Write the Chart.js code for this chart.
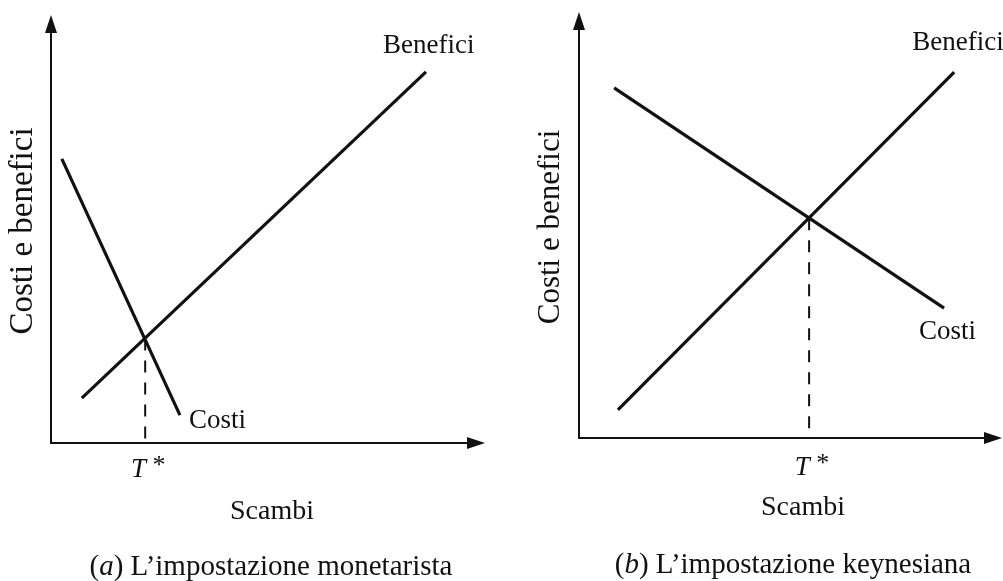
<!DOCTYPE html>
<html>
<head>
<meta charset="utf-8">
<script src="https://cdn.jsdelivr.net/npm/chart.js@4"></script>
<style>
  html, body { margin: 0; padding: 0; background: #fff; }
  #wrap { position: relative; width: 1003px; height: 581px; overflow: hidden; }
  canvas { position: absolute; top: 0; }
  #chartA { left: 0; }
  #chartB { left: 500px; }
</style>
</head>
<body>
<div id="wrap">
  <canvas id="chartA" width="500" height="581"></canvas>
  <canvas id="chartB" width="503" height="581"></canvas>
</div>
<script>
"use strict";

// (a) monetarist view, values in axis units (0..10)
const costiAX = [0.25, 2.97];
const costiAY = [6.64, 0.65];
const beneficiAX = [0.71, 8.64];
const beneficiAY = [1.05, 8.67];
const tStarA = 2.17;
const eqA = 2.44;

// (b) keynesian view
const costiBX = [0.83, 8.63];
const costiBY = [8.22, 3.05];
const beneficiBX = [0.92, 8.87];
const beneficiBY = [0.66, 8.59];
const tStarB = 5.44;
const eqB = 5.16;

const axisTitleY = 'Costi e benefici';
const axisTitleX = 'Scambi';
const seriesNames = ['Costi', 'Benefici'];

const SERIF = '"Liberation Serif", "DejaVu Serif", serif';
const INK = '#111';

function pts(xs, ys) {
    return xs.map((x, i) => ({ x: x, y: ys[i] }));
}

function arrowHead(ctx, x, y, dir) {
    // dir: 'up' or 'right'
    ctx.beginPath();
    if (dir === 'up') {
        ctx.moveTo(x, y);
        ctx.lineTo(x - 6, y + 18);
        ctx.lineTo(x + 6, y + 18);
    } else {
        ctx.moveTo(x, y);
        ctx.lineTo(x - 18, y - 6);
        ctx.lineTo(x - 18, y + 6);
    }
    ctx.closePath();
    ctx.fill();
}

// draws pieces of text one after the other, each with its own font, centred on cx
function drawRuns(ctx, runs, cx, cy) {
    let total = 0;
    runs.forEach(r => { ctx.font = r.font; total += ctx.measureText(r.text).width; });
    let x = cx - total / 2;
    runs.forEach(r => {
        ctx.font = r.font;
        ctx.textAlign = 'left';
        ctx.fillText(r.text, x, cy + (r.dy || 0));
        x += ctx.measureText(r.text).width;
    });
}

const sketchPlugin = {
    id: 'sketch',
    afterDraw(chart, args, o) {
        const { ctx, chartArea: a, scales } = chart;
        const xs = scales.x, ys = scales.y;
        ctx.save();
        ctx.strokeStyle = INK;
        ctx.fillStyle = INK;
        ctx.lineWidth = 2;

        // axes
        ctx.beginPath();
        ctx.moveTo(a.left, a.top + 10);
        ctx.lineTo(a.left, a.bottom);
        ctx.lineTo(a.right - 10, a.bottom);
        ctx.stroke();
        arrowHead(ctx, a.left, a.top, 'up');
        arrowHead(ctx, a.right, a.bottom, 'right');

        ctx.textBaseline = 'middle';
        const plain = '27px ' + SERIF;
        const ital = 'italic 27px ' + SERIF;
        const capPlain = '29px ' + SERIF;
        const capItal = 'italic 29px ' + SERIF;

        // T* tick label
        drawRuns(ctx, [
            { text: 'T', font: ital },
            { text: ' *', font: '26px ' + SERIF, dy: -4 }
        ], xs.getPixelForValue(o.tStar) + 3, o.tY);

        // x title and caption
        drawRuns(ctx, [{ text: axisTitleX, font: '28px ' + SERIF }], o.scambiX, o.scambiY);
        drawRuns(ctx, [
            { text: '(', font: capPlain },
            { text: o.letter, font: capItal },
            { text: ') ' + o.caption, font: capPlain }
        ], o.capX, o.capY);

        // y title
        ctx.save();
        ctx.translate(o.yTitleX, o.yTitleY);
        ctx.rotate(-Math.PI / 2);
        ctx.font = o.yTitleSize + 'px ' + SERIF;
        ctx.textAlign = 'center';
        ctx.fillText(axisTitleY, 0, 0);
        ctx.restore();

        // line labels, placed next to the end of each line
        ctx.font = plain;
        ctx.textAlign = 'left';
        chart.data.datasets.forEach(ds => {
            const lab = o.labels[ds.label];
            if (!lab) return;
            const end = ds.data[ds.data.length - 1];
            const px = xs.getPixelForValue(end.x) + lab.dx;
            const py = ys.getPixelForValue(end.y) + lab.dy;
            ctx.fillText(ds.label, px, py);
        });
        ctx.restore();
    }
};

function makePanel(id, costi, benefici, tStar, eq, pad, extra) {
    const ctx = document.getElementById(id).getContext('2d');
    return new Chart(ctx, {
        type: 'scatter',
        data: {
            datasets: [
                { label: seriesNames[0], data: costi },
                { label: seriesNames[1], data: benefici },
                {
                    label: 'tstar',
                    data: [{ x: tStar, y: eq }, { x: tStar, y: 0 }],
                    borderWidth: 2,
                    borderDash: [12, 10]
                }
            ]
        },
        options: {
            responsive: false,
            animation: false,
            devicePixelRatio: 1,
            showLine: true,
            layout: { padding: pad },
            elements: {
                point: { radius: 0, hoverRadius: 0 },
                line: { borderColor: INK, borderWidth: 3.2, borderCapStyle: 'butt', tension: 0 }
            },
            scales: {
                x: { type: 'linear', min: 0, max: 10, display: false },
                y: { type: 'linear', min: 0, max: 10, display: false }
            },
            plugins: {
                legend: { display: false },
                tooltip: { enabled: false },
                sketch: extra
            }
        },
        plugins: [sketchPlugin]
    });
}

makePanel('chartA',
    pts(costiAX, costiAY), pts(beneficiAX, beneficiAY), tStarA, eqA,
    { left: 51, right: 15, top: 15, bottom: 138 },
    {
        tStar: tStarA, tY: 470,
        scambiX: 272, scambiY: 512,
        letter: 'a', caption: 'L’impostazione monetarista', capX: 271, capY: 567,
        yTitleX: 23, yTitleY: 231, yTitleSize: 33,
        labels: { Costi: { dx: 9, dy: 6 }, Benefici: { dx: -43, dy: -26 } }
    });

makePanel('chartB',
    pts(costiBX, costiBY), pts(beneficiBX, beneficiBY), tStarB, eqB,
    { left: 79, right: 1, top: 12, bottom: 143 },
    {
        tStar: tStarB, tY: 468,
        scambiX: 303, scambiY: 508,
        letter: 'b', caption: 'L’impostazione keynesiana', capX: 293, capY: 565,
        yTitleX: 51, yTitleY: 227, yTitleSize: 31,
        labels: { Costi: { dx: -25, dy: 24 }, Benefici: { dx: -42, dy: -29 } }
    });
</script>
</body>
</html>
